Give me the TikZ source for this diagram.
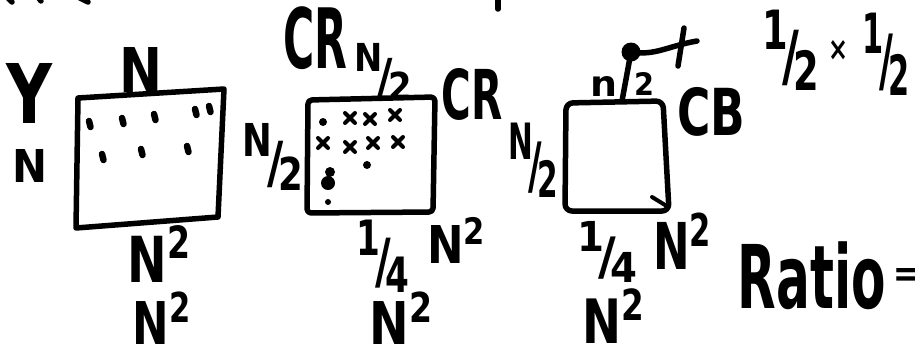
\documentclass[tikz,border=0pt]{standalone}
\usepackage{fontspec}
\setmainfont{DejaVu Sans}
\usepackage{graphicx}
\newcommand{\hfr}[2]{\raisebox{0.45em}{\footnotesize #1}\kern-0.12em/\kern-0.12em\raisebox{-0.15em}{\footnotesize #2}}
\newcommand{\fitt}[3]{\resizebox*{#1pt}{#2pt}{\bfseries #3}}
\tikzset{
  hw/.style={inner sep=0pt, outer sep=0pt, anchor=center},
  pen/.style={line width=5.5pt, line cap=round, line join=round},
  thinpen/.style={line width=4pt, line cap=round, line join=round},
}
\begin{document}
\begin{tikzpicture}[x=1pt,y=-1pt]
\useasboundingbox (0,0) rectangle (915,349);
\clip (0,0) rectangle (915,349);
\fill[white] (0,0) rectangle (915,349);
% cut-off strokes at the top edge
\draw[pen] (7,-3) -- (12,2);
\draw[pen] (38,-3) -- (41,1);
\draw[pen] (78,-3) -- (88,2);
\draw[pen] (498,-3) -- (498,9);

% ---------- box 1 ----------
\coordinate (b1tl) at (78,98);
\coordinate (b1tr) at (224,89);
\coordinate (b1br) at (218,217);
\coordinate (b1bl) at (76,228);
\draw[pen] (b1tl) -- (b1tr) -- (b1br) -- (b1bl) -- cycle;
\foreach \x/\y in {89/124,122/121,154/117,195/112,209/109,102/157,141/152,187/149}
  \draw[pen, line width=6.5pt] (\x,\y-3) -- (\x+1.5,\y+3);
\node[hw] (y)   at (30,93)   {\fitt{46}{60}{Y}};
\node[hw] (n1l) at (30,166)  {\fitt{35}{33}{N}};
\node[hw] (n1t) at (141,70)  {\fitt{43}{45}{N}};
\node[hw] (n1b) at (160,254) {\fitt{65}{56}{N\textsuperscript{2}}};
\node[hw] (n1c) at (163,318) {\fitt{60}{52}{N\textsuperscript{2}}};

% ---------- box 2 ----------
\node[hw] (h2l) at (273,157) {\fitt{60}{67}{\hfr{N}{2}}};
\coordinate (b2tl) at (308,100);
\coordinate (b2tr) at (435,97);
\coordinate (b2br) at (433,212);
\coordinate (b2bl) at (307,213);
\draw[pen, rounded corners=4pt] (b2tl) -- (b2tr) -- (b2br) -- (b2bl) -- cycle;
\foreach \x/\y in {350/118,370/119,395/115,323/143,350/147,373/143,398/142}
  \draw[thinpen] (\x-5,\y-5) -- (\x+5,\y+5) (\x+5,\y-5) -- (\x-5,\y+5);
\foreach \x/\y/\r in {323/122/4,367/165/4,330/172/5,328/183/7,328/202/3}
  \fill (\x,\y) circle (\r);
\node[hw] (cr1) at (315,38)  {\fitt{64}{63}{CR}};
\node[hw] (h2t) at (383,72)  {\fitt{57}{57}{\hfr{N}{2}}};
\node[hw] (cr2) at (472,94)  {\fitt{61}{52}{CR}};
\node[hw] (q2)  at (383,256) {\fitt{53}{72}{\hfr{1}{4}}};
\node[hw] (n2r) at (457,240) {\fitt{60}{46}{N\textsuperscript{2}}};
\node[hw] (n2c) at (402,318) {\fitt{65}{52}{N\textsuperscript{2}}};

% ---------- box 3 ----------
\node[hw] (h3l) at (533,160) {\fitt{50}{74}{\hfr{N}{2}}};
\coordinate (b3tl) at (566,103);
\coordinate (b3tr) at (663,101);
\coordinate (b3br) at (669,211);
\coordinate (b3bl) at (565,211);
\draw[pen, rounded corners=7pt] (b3tl) -- (b3tr) -- (b3br) -- (b3bl) -- cycle;
\draw[thinpen] (652,197) -- (665,205);
\fill (631,52) circle (9.5);
\coordinate (bl) at (631,52);
\coordinate (b3top) at (622,101);
\draw[pen] (bl) -- (b3top);
\coordinate (pl) at (697,41);
\draw[pen] (bl) .. controls (655,56) and (668,46) .. (pl);
\draw[pen] (684,28) -- (678,66);
\node[hw] (n3n) at (604,86)  {\fitt{27}{20}{n}};
\node[hw] (n32) at (644,84)  {\fitt{20}{23}{2}};
\node[hw] (cb)  at (711,112) {\fitt{68}{49}{CB}};
\node[hw] (hh1) at (791,50)  {\fitt{57}{80}{\hfr{1}{2}}};
\node[hw] (tim) at (838,50)  {\fitt{20}{20}{×}};
\node[hw] (hh2) at (886,54)  {\fitt{47}{82}{\hfr{1}{2}}};
\node[hw] (q3)  at (607,252) {\fitt{60}{61}{\hfr{1}{4}}};
\node[hw] (n3r) at (683,241) {\fitt{60}{57}{N\textsuperscript{2}}};
\node[hw] (n3c) at (615,316) {\fitt{64}{54}{N\textsuperscript{2}}};

% ---------- ratio ----------
\node[hw] (rat) at (812,276) {\fitt{148}{68}{Ratio}};
\node[hw, anchor=west] (eq) at (892,277) {\fitt{34}{18}{=}};
\end{tikzpicture}
\end{document}
